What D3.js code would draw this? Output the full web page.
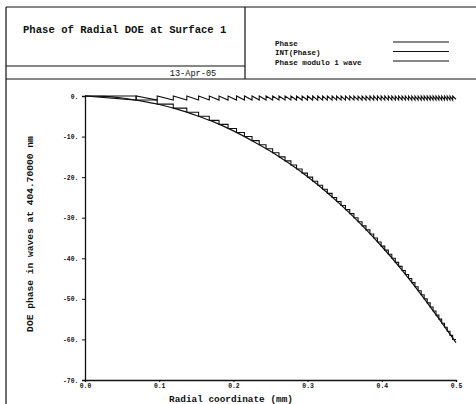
<!DOCTYPE html>
<html>
<head>
<meta charset="utf-8">
<script src="https://cdn.jsdelivr.net/npm/d3@7"></script>
<style>
  html, body { margin: 0; padding: 0; background: #fff; }
  svg { display: block; }
  text { font-family: "Liberation Mono", "DejaVu Sans Mono", monospace; fill: #111; }
</style>
</head>
<body>
<svg id="chart" width="476" height="404"></svg>
<script>
// ---- Data ----
const titleText = "Phase of Radial DOE at Surface 1";
const dateText = "13-Apr-05";
const legendLabels = ["Phase", "INT(Phase)", "Phase modulo 1 wave"];
const xLabel = "Radial coordinate (mm)";
const yLabel = "DOE phase in waves at 404.70000 nm";

const xTicks = [0.0, 0.1, 0.2, 0.3, 0.4, 0.5];
const xTickLabels = ["0.0", "0.1", "0.2", "0.3", "0.4", "0.5"];
const yTicks = [0, -10, -20, -30, -40, -50, -60, -70];
const yTickLabels = ["0.", "-10.", "-20.", "-30.", "-40.", "-50.", "-60.", "-70."];

// Phase (waves) sampled along the radial coordinate (mm)
const radius = [0, 0.025, 0.05, 0.075, 0.1, 0.125, 0.15, 0.175, 0.2, 0.225, 0.25,
                0.275, 0.3, 0.325, 0.35, 0.375, 0.4, 0.425, 0.45, 0.475, 0.5];
const phase  = [0, -0.1, -0.5, -1.2, -2.1, -3.3, -4.8, -6.5, -8.6, -11.0, -13.6,
                -16.6, -19.9, -23.6, -27.7, -32.2, -37.1, -42.4, -48.2, -54.4, -60.8];

// Radii (mm) at which the phase passes each whole wave: -1, -2, ... -60
const waveRadii = [0.0689, 0.0973, 0.1190, 0.1372, 0.1531, 0.1675, 0.1806, 0.1928, 0.2042, 0.2149,
                   0.2251, 0.2348, 0.2440, 0.2529, 0.2614, 0.2696, 0.2775, 0.2851, 0.2926, 0.2998,
                   0.3068, 0.3136, 0.3202, 0.3266, 0.3330, 0.3391, 0.3451, 0.3510, 0.3568, 0.3624,
                   0.3680, 0.3734, 0.3787, 0.3840, 0.3891, 0.3941, 0.3991, 0.4040, 0.4088, 0.4135,
                   0.4182, 0.4227, 0.4273, 0.4317, 0.4361, 0.4404, 0.4447, 0.4489, 0.4531, 0.4571,
                   0.4612, 0.4652, 0.4691, 0.4730, 0.4769, 0.4807, 0.4845, 0.4882, 0.4919, 0.4955];
// Phase modulo 1 wave at the outer edge (r = 0.5)
const modEdge = -0.8;

// ---- Drawing ----
const svg = d3.select("#chart");
const ink = "#111";

// Frame
const frame = svg.append("g").attr("stroke", ink).attr("stroke-width", 1.2).attr("fill", "none");
frame.append("line").attr("x1", 6).attr("y1", 7).attr("x2", 476).attr("y2", 7);
frame.append("line").attr("x1", 6).attr("y1", 7).attr("x2", 6).attr("y2", 404);
frame.append("line").attr("x1", 245).attr("y1", 7).attr("x2", 245).attr("y2", 79);
frame.append("line").attr("x1", 6).attr("y1", 66).attr("x2", 245).attr("y2", 66);
frame.append("line").attr("x1", 6).attr("y1", 79).attr("x2", 476).attr("y2", 79);

svg.append("text").attr("x", 23).attr("y", 33)
  .attr("font-size", 10.6).attr("font-weight", "bold").text(titleText);
svg.append("text").attr("x", 193).attr("y", 76).attr("text-anchor", "middle")
  .attr("font-size", 8.6).text(dateText);

// Legend
const legendY = [43, 52.5, 62];
legendLabels.forEach((lab, i) => {
  svg.append("text").attr("x", 275).attr("y", legendY[i] + 2.5)
    .attr("font-size", 7.6).attr("font-weight", "bold").text(lab);
  svg.append("line").attr("x1", 393).attr("x2", 449)
    .attr("y1", legendY[i] - 1).attr("y2", legendY[i] - 1)
    .attr("stroke", ink).attr("stroke-width", 1.1);
});

// Scales
const x = d3.scaleLinear().domain([0, 0.5]).range([85, 456]);
const y = d3.scaleLinear().domain([0, -70]).range([96, 380]);

// Axes
const xAxis = d3.axisBottom(x).tickValues(xTicks).tickSize(2)
  .tickFormat((d, i) => xTickLabels[i]);
const yAxis = d3.axisLeft(y).tickValues(yTicks).tickSize(3)
  .tickFormat((d, i) => yTickLabels[i]);

const gx = svg.append("g").attr("transform", "translate(0,380)").call(xAxis);
const gy = svg.append("g").attr("transform", "translate(85,0)").call(yAxis);
[gx, gy].forEach(g => {
  g.select(".domain").attr("stroke", ink).attr("stroke-width", 1.3);
  g.selectAll(".tick line").attr("stroke", ink).attr("stroke-width", 1);
  g.selectAll(".tick text").attr("font-family", "Liberation Mono, monospace")
    .attr("font-size", 6.4).attr("font-weight", "bold").attr("fill", ink);
});
gx.selectAll(".tick text").attr("y", 3).attr("dy", "0.71em");
gy.selectAll(".tick text").attr("dx", "-0.1em");

svg.append("text").attr("x", 231).attr("y", 401.5).attr("text-anchor", "middle")
  .attr("font-size", 9.4).attr("font-weight", "bold").text(xLabel);
svg.append("text").attr("transform", "translate(33,234) rotate(-90)")
  .attr("text-anchor", "middle").attr("font-size", 9.6).attr("font-weight", "bold").text(yLabel);

// Curves
const line = d3.line().x(d => x(d[0])).y(d => y(d[1]));

// Phase
const phasePts = radius.map((r, i) => [r, phase[i]]);
svg.append("path").datum(phasePts).attr("d", line.curve(d3.curveMonotoneX))
  .attr("fill", "none").attr("stroke", ink).attr("stroke-width", 1.2);

// INT(Phase): staircase
const intPts = [[0, 0]];
waveRadii.forEach((r, k) => { intPts.push([r, -k]); intPts.push([r, -(k + 1)]); });
intPts.push([radius[radius.length - 1], -waveRadii.length]);
svg.append("path").datum(intPts).attr("d", d3.line().x(d => x(d[0])).y(d => y(d[1])))
  .attr("fill", "none").attr("stroke", ink).attr("stroke-width", 1.1);

// Phase modulo 1 wave: sawtooth
const modPts = [[0, 0]];
waveRadii.forEach(r => { modPts.push([r, -1]); modPts.push([r, 0]); });
modPts.push([radius[radius.length - 1], modEdge]);
svg.append("path").datum(modPts).attr("d", d3.line().x(d => x(d[0])).y(d => y(d[1])))
  .attr("fill", "none").attr("stroke", ink).attr("stroke-width", 1.1);
</script>
</body>
</html>
